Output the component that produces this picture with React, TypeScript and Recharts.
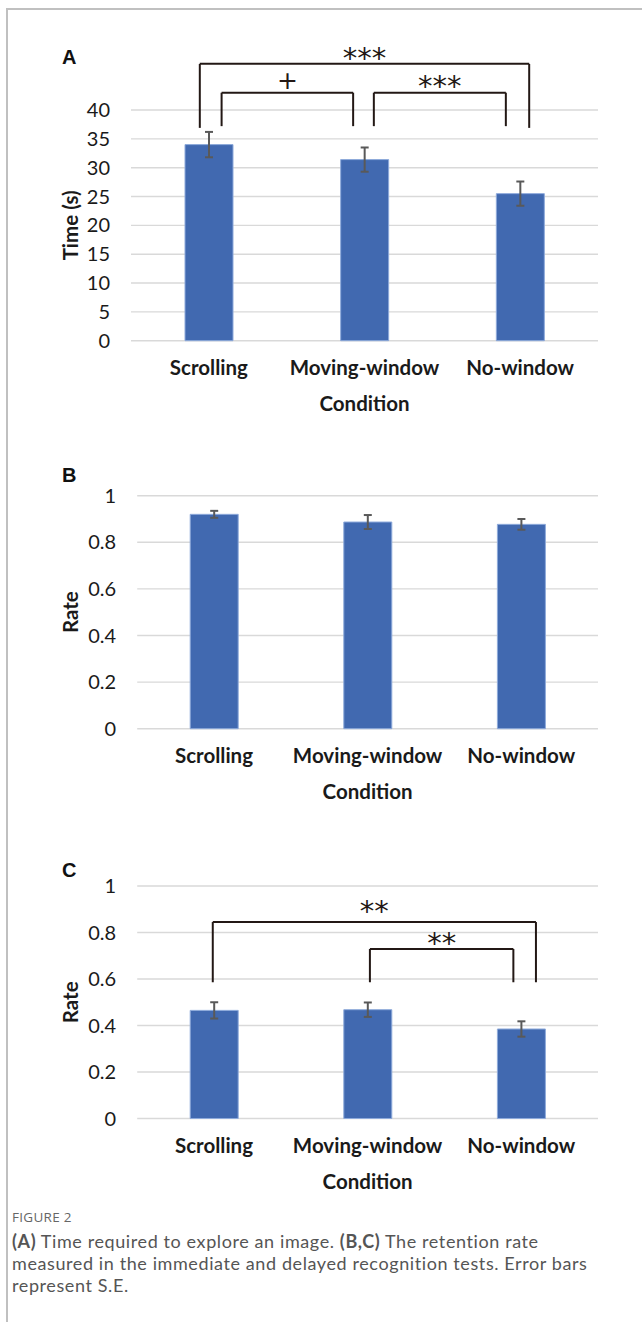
import React from "react";
import {
  BarChart,
  Bar,
  XAxis,
  YAxis,
  CartesianGrid,
  ErrorBar,
  ReferenceLine,
} from "recharts";

const categories = ["Scrolling", "Moving-window", "No-window"];

// (A) time to explore an image, seconds
const timeMeans = [34.0, 31.4, 25.5];
const timeSE = [2.2, 2.1, 2.1];
const timeTicks = [0, 5, 10, 15, 20, 25, 30, 35, 40];

// (B) immediate recognition rate
const immediateMeans = [0.92, 0.887, 0.877];
const immediateSE = [0.015, 0.03, 0.023];

// (C) delayed recognition rate
const delayedMeans = [0.465, 0.468, 0.385];
const delayedSE = [0.035, 0.031, 0.033];

const rateTicks = [0, 0.2, 0.4, 0.6, 0.8, 1];

// significance comparisons: pair of condition indexes + mark
const timeSig = [
  { a: 0, b: 2, mark: "***" },
  { a: 0, b: 1, mark: "+" },
  { a: 1, b: 2, mark: "***" },
];
const delayedSig = [
  { a: 0, b: 2, mark: "**" },
  { a: 1, b: 2, mark: "**" },
];

const FONT = "Lato, 'Open Sans', sans-serif";
const BLUE = "#4169b0";
const INK = "#231815";
const TEXT = "#1a1a1a";

type Sig = { a: number; b: number; mark: string };
// bracket drawing: offsets from bar centre (in category units), heights in y units
type BracketLayout = {
  da: number;
  db: number;
  top: number;
  foot: number;
  labelOffset: number;
  fontSize: number;
};

const timeBrackets: BracketLayout[] = [
  { da: -0.058, db: 0.058, top: 48, foot: 36.9, labelOffset: -4, fontSize: 29 },
  { da: 0.082, db: -0.073, top: 43, foot: 37.2, labelOffset: 4, fontSize: 25 },
  { da: 0.06, db: -0.092, top: 43, foot: 37.2, labelOffset: -3, fontSize: 29 },
];
const delayedBrackets: BracketLayout[] = [
  { da: -0.008, db: 0.096, top: 0.845, foot: 0.586, labelOffset: 1, fontSize: 29 },
  { da: 0.015, db: -0.051, top: 0.729, foot: 0.586, labelOffset: -3.5, fontSize: 29 },
];

function renderBrackets(sig: Sig[], layout: BracketLayout[]) {
  return sig.flatMap((s, i) => {
    const l = layout[i];
    const xa = s.a + l.da;
    const xb = s.b + l.db;
    const common = { stroke: INK, strokeWidth: 2, ifOverflow: "visible" as const };
    return [
      <ReferenceLine key={`l${i}`} {...common} segment={[{ x: xa, y: l.foot }, { x: xa, y: l.top }]} />,
      <ReferenceLine key={`r${i}`} {...common} segment={[{ x: xb, y: l.foot }, { x: xb, y: l.top }]} />,
      <ReferenceLine
        key={`h${i}`}
        {...common}
        segment={[{ x: xa, y: l.top }, { x: xb, y: l.top }]}
        label={{
          value: s.mark,
          position: "top",
          offset: l.labelOffset,
          fill: INK,
          fontSize: l.fontSize,
          fontFamily: "'DejaVu Sans', sans-serif",
        }}
      />,
    ];
  });
}

function Panel({
  means,
  se,
  ticks,
  max,
  yLabel,
  top,
  marginTop,
  marginLeft,
  marginBottom,
  yLabelOffset,
  sig = [],
  brackets = [],
}: {
  means: number[];
  se: number[];
  ticks: number[];
  max: number;
  yLabel: string;
  top: number;
  marginTop: number;
  marginLeft: number;
  marginBottom: number;
  yLabelOffset: number;
  sig?: Sig[];
  brackets?: BracketLayout[];
}) {
  const rows = categories.map((name, i) => ({ x: i, name, value: means[i], se: se[i] }));
  return (
    <div style={{ position: "absolute", left: 0, top }}>
      <BarChart
        width={642}
        height={420}
        data={rows}
        margin={{ top: marginTop, right: 44, left: marginLeft, bottom: marginBottom }}
      >
        <CartesianGrid vertical={false} stroke="#d9d9d9" strokeWidth={1.4} />
        <XAxis
          type="number"
          dataKey="x"
          domain={[-0.5, 2.5]}
          ticks={[0, 1, 2]}
          interval={0}
          tickFormatter={(v) => categories[v as number] ?? ""}
          axisLine={false}
          tickLine={false}
          tickMargin={14}
          height={70}
          tick={{ fontSize: 20.5, fontWeight: 700, fill: TEXT, fontFamily: FONT }}
          label={{
            value: "Condition",
            position: "insideBottom",
            offset: 0,
            fontSize: 20.5,
            fontWeight: 700,
            fill: TEXT,
            fontFamily: FONT,
          }}
        />
        <YAxis
          type="number"
          domain={[0, max]}
          ticks={ticks}
          interval={0}
          axisLine={false}
          tickLine={false}
          tickMargin={15}
          width={70}
          tick={{ fontSize: 20, fill: TEXT, fontFamily: FONT }}
          label={{
            value: yLabel,
            angle: -90,
            position: "insideLeft",
            offset: yLabelOffset,
            fontSize: 20.5,
            fontWeight: 700,
            fill: TEXT,
            fontFamily: FONT,
            style: { textAnchor: "middle" },
          }}
        />
        <Bar
          dataKey="value"
          fill={BLUE}
          stroke="#8eaadb"
          strokeWidth={1}
          barSize={48}
          isAnimationActive={false}
        >
          <ErrorBar
            dataKey="se"
            direction="y"
            width={4}
            stroke="#595959"
            strokeWidth={2}
            isAnimationActive={false}
          />
        </Bar>
        {renderBrackets(sig, brackets)}
      </BarChart>
    </div>
  );
}

const panelTag: React.CSSProperties = {
  position: "absolute",
  left: 62,
  fontFamily: "'Liberation Sans', Arial, sans-serif",
  fontWeight: 700,
  fontSize: 20,
  lineHeight: "20px",
  color: "#111",
};

const captionLine: React.CSSProperties = {
  height: 22,
  lineHeight: "22px",
};

export default function App() {
  return (
    <div
      style={{
        position: "absolute",
        left: 0,
        top: 0,
        width: 642,
        height: 1322,
        background: "#fff",
        overflow: "hidden",
      }}
    >
      <div
        style={{
          position: "absolute",
          left: 6,
          top: 8,
          width: 640,
          height: 1320,
          borderTop: "2px solid #c0c0c0",
          borderLeft: "2px solid #c0c0c0",
        }}
      />

      <Panel
        means={timeMeans}
        se={timeSE}
        ticks={timeTicks}
        max={40}
        yLabel="Time (s)"
        top={0}
        marginTop={110}
        marginLeft={61}
        marginBottom={9.3}
        yLabelOffset={10}
        sig={timeSig}
        brackets={timeBrackets}
      />
      <Panel
        means={immediateMeans}
        se={immediateSE}
        ticks={rateTicks}
        max={1}
        yLabel="Rate"
        top={400}
        marginTop={95.7}
        marginLeft={67.2}
        marginBottom={21.3}
        yLabelOffset={3.5}
      />
      <Panel
        means={delayedMeans}
        se={delayedSE}
        ticks={rateTicks}
        max={1}
        yLabel="Rate"
        top={790}
        marginTop={96}
        marginLeft={67.2}
        marginBottom={21.5}
        yLabelOffset={3.5}
        sig={delayedSig}
        brackets={delayedBrackets}
      />

      <div style={{ ...panelTag, top: 47 }}>A</div>
      <div style={{ ...panelTag, top: 465 }}>B</div>
      <div style={{ ...panelTag, top: 860 }}>C</div>

      <div
        style={{
          position: "absolute",
          left: 12,
          top: 1208,
          fontFamily: "'Open Sans', sans-serif",
          fontSize: 13.5,
          lineHeight: "18px",
          letterSpacing: 0.3,
          color: "#666",
        }}
      >
        FIGURE 2
      </div>
      <div
        style={{
          position: "absolute",
          left: 12,
          top: 1230,
          width: 630,
          fontFamily: "Lato, sans-serif",
          fontSize: 18,
          letterSpacing: 0.6,
          color: "#555",
          whiteSpace: "nowrap",
        }}
      >
        <div style={captionLine}>
          <b style={{ fontWeight: 700 }}>(A)</b> Time required to explore an image.{" "}
          <b style={{ fontWeight: 700 }}>(B,C)</b> The retention rate
        </div>
        <div style={captionLine}>
          measured in the immediate and delayed recognition tests. Error bars
        </div>
        <div style={captionLine}>represent S.E.</div>
      </div>
    </div>
  );
}
